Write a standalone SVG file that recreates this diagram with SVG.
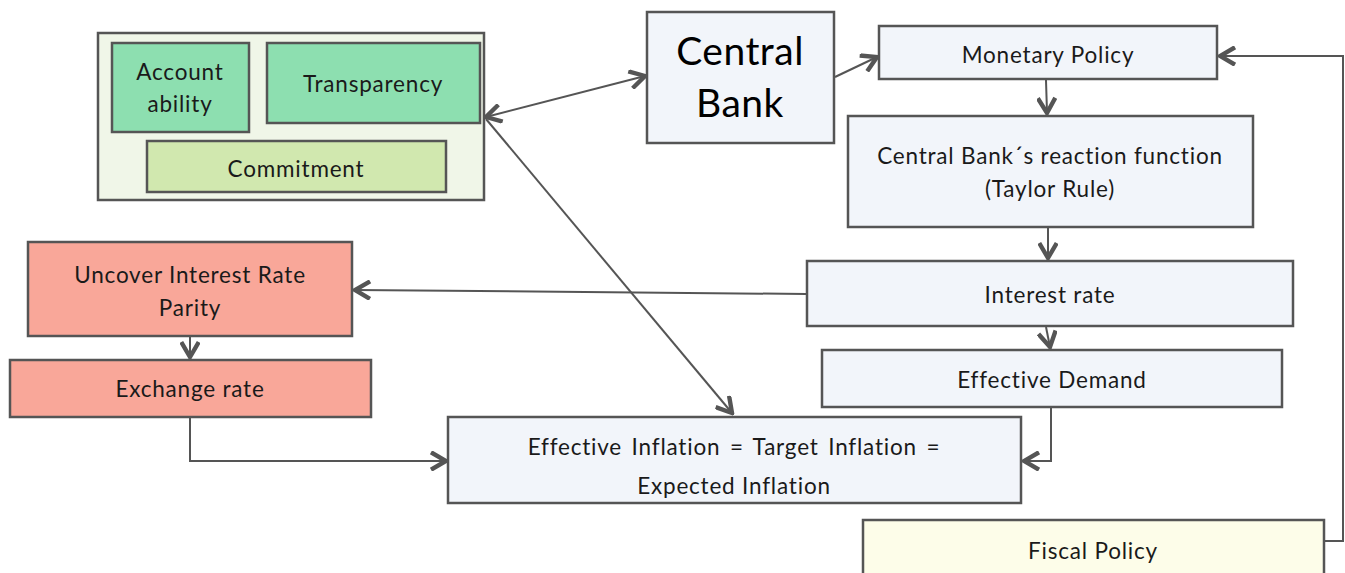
<svg xmlns="http://www.w3.org/2000/svg" width="1345" height="573" viewBox="0 0 1345 573">
<style>
.box{stroke:#555;stroke-width:2.5}
.blue{fill:#f2f5fa}
.grn{fill:#8ddfb0}
.lg{fill:#d1e8af}
.outer{fill:#f0f6e8}
.sal{fill:#f9a799}
.yel{fill:#fdfde9}
text{font-family:Lato,"Open Sans","Liberation Sans",sans-serif;font-size:22.5px;letter-spacing:0.8px;fill:#1a1a1a;text-anchor:middle}
.big{font-size:39px;letter-spacing:0.5px;fill:#000}
.con{fill:none;stroke:#555;stroke-width:2}
</style>
<defs>
<marker id="ah" markerUnits="userSpaceOnUse" markerWidth="20" markerHeight="20" viewBox="-14 -8 16 16" refX="0" refY="0" orient="auto-start-reverse">
<path d="M-12,-7 L0,0 L-12,7" fill="none" stroke="#555" stroke-width="3.5" stroke-linejoin="miter"/>
</marker>
<clipPath id="eiclip"><rect x="448" y="417" width="573" height="84"/></clipPath>
</defs>
<g id="group-box">
<rect class="box outer" x="98" y="33" width="386" height="167"/>
</g>
<g id="accountability"><rect class="box grn" x="112" y="43" width="137" height="89"/><text x="180" y="80">Account</text><text x="180" y="112">ability</text></g>
<g id="transparency"><rect class="box grn" x="267" y="43" width="213" height="80"/><text x="373" y="92">Transparency</text></g>
<g id="commitment"><rect class="box lg" x="147" y="141" width="299" height="51"/><text x="296" y="177">Commitment</text></g>
<g id="central-bank"><rect class="box blue" x="647" y="12" width="187" height="131"/><text class="big" x="740" y="65">Central</text><text class="big" x="740" y="117">Bank</text></g>
<g id="monetary-policy"><rect class="box blue" x="879" y="26" width="338" height="53"/><text x="1048" y="63">Monetary Policy</text></g>
<g id="reaction"><rect class="box blue" x="848" y="116" width="405" height="111"/><text x="1050" y="164">Central Bank´s reaction function</text><text x="1050" y="197">(Taylor Rule)</text></g>
<g id="interest-rate"><rect class="box blue" x="807" y="261" width="486" height="65"/><text x="1050" y="303">Interest rate</text></g>
<g id="effective-demand"><rect class="box blue" x="822" y="350" width="460" height="57"/><text x="1052" y="388">Effective Demand</text></g>
<g id="effective-inflation"><rect class="box blue" x="448" y="417" width="573" height="86"/><g clip-path="url(#eiclip)"><text x="734" y="455" word-spacing="3">Effective Inflation = Target Inflation =</text><text x="734" y="494">Expected Inflation</text></g></g>
<g id="uirp"><rect class="box sal" x="28" y="242" width="324" height="94"/><text x="190" y="283">Uncover Interest Rate</text><text x="190" y="316">Parity</text></g>
<g id="exchange-rate"><rect class="box sal" x="10" y="360" width="361" height="57"/><text x="190" y="397">Exchange rate</text></g>
<g id="fiscal-policy"><rect class="box yel" x="863" y="520" width="461" height="60"/><text x="1093" y="559">Fiscal Policy</text></g>
<g id="connectors">
<path class="con" d="M486,117 L645,76" marker-start="url(#ah)" marker-end="url(#ah)"/>
<path class="con" d="M835,77 L877,57" marker-end="url(#ah)"/>
<path class="con" d="M486,119 L732,413" marker-end="url(#ah)"/>
<path class="con" d="M1046,80 L1047,113" marker-end="url(#ah)"/>
<path class="con" d="M1048,228 L1048,258" marker-end="url(#ah)"/>
<path class="con" d="M806,294 L355,290" marker-end="url(#ah)"/>
<path class="con" d="M1046,327 L1050,347" marker-end="url(#ah)"/>
<path class="con" d="M190,337 L190,357" marker-end="url(#ah)"/>
<path class="con" d="M190,418 L190,461 L446,461" marker-end="url(#ah)"/>
<path class="con" d="M1051,408 L1051,461 L1024,461" marker-end="url(#ah)"/>
<path class="con" d="M1325,541 L1343,541 L1343,56 L1220,56" marker-end="url(#ah)"/>
</g>
</svg>
